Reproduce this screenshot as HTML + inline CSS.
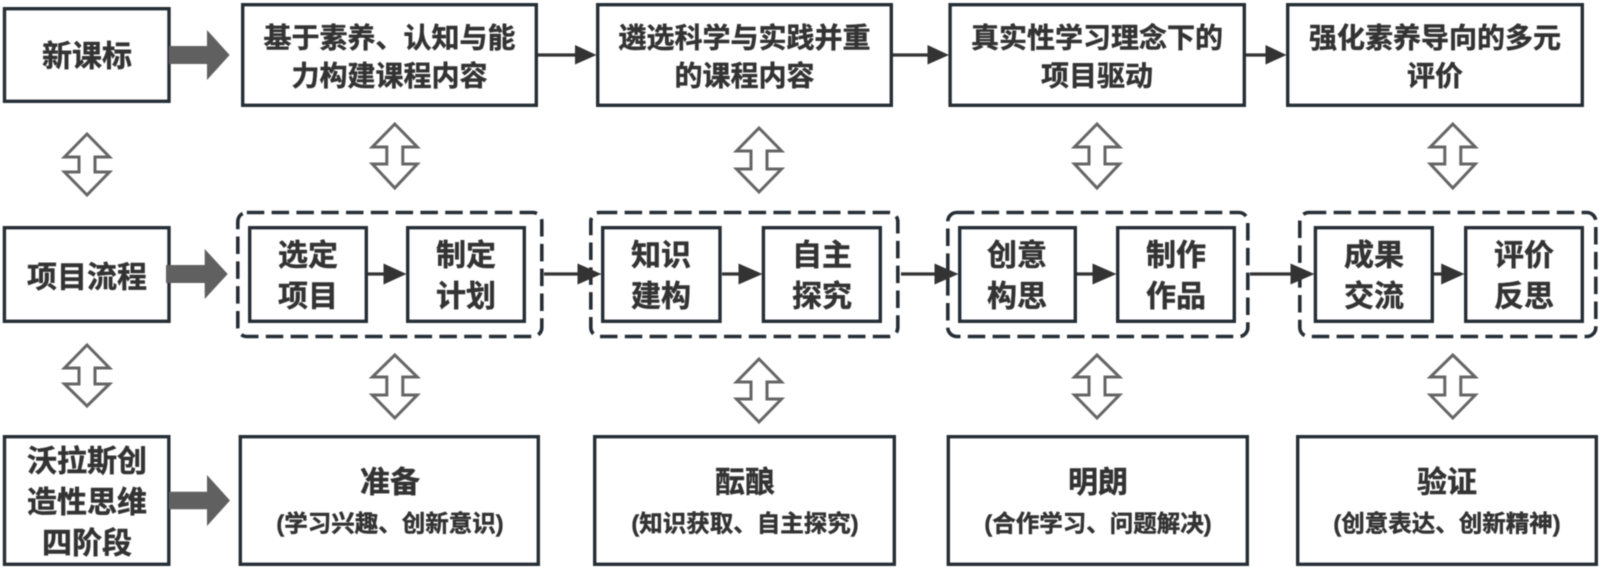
<!DOCTYPE html>
<html lang="zh">
<head>
<meta charset="utf-8">
<title>课程流程图</title>
<style>
html,body{margin:0;padding:0;background:#fff;width:1600px;height:572px;overflow:hidden}
svg{display:block;filter:blur(0.45px)}
text{font-family:"Liberation Sans","Noto Sans CJK SC",sans-serif;font-weight:700;fill:#333;stroke:#333;stroke-width:.45;text-anchor:middle;dominant-baseline:central}
.b{fill:#fff;stroke:#262e36;stroke-width:3.4}
.d{fill:none;stroke:#262e36;stroke-width:3.6;stroke-dasharray:17.5 7.3}
.l{stroke:#333;stroke-width:3.3;fill:none}
.h{fill:#333}
.g{fill:#606060}
.o{fill:#fff;stroke:#666;stroke-width:3}
.t28{font-size:28px}.t30{font-size:30px}.t23{font-size:23.500px}
</style>
</head>
<body>
<svg width="1600" height="572" viewBox="0 0 1600 572" xmlns="http://www.w3.org/2000/svg">
<!-- dashed groups -->
<rect class="d" x="237.8" y="212.5" width="304" height="124" rx="9"/>
<rect class="d" x="590.8" y="212.5" width="307" height="124" rx="9"/>
<rect class="d" x="947.8" y="212.5" width="300" height="124" rx="9"/>
<rect class="d" x="1299.8" y="212.5" width="296" height="124" rx="9"/>

<!-- thin connectors row 1 -->
<path class="l" d="M538 55H580M893 55H932M1246 55H1270"/>
<polygon class="h" points="575,45 596.500,55 575,64.500"/>
<polygon class="h" points="927.500,45 949,55 927.500,64.500"/>
<polygon class="h" points="1265.500,45 1286.500,55 1265.500,64.500"/>

<!-- thin connectors row 2 -->
<path class="l" d="M368 274H390M544 274H582M722 274H744M901 274H940M1077 274H1098M1250 274H1295M1434 274H1446"/>
<polygon class="h" points="383.500,263.500 406.500,274 383.500,284.500"/>
<polygon class="h" points="577.500,263.500 601.500,274 577.500,284.500"/>
<polygon class="h" points="738.500,263.500 762.500,274 738.500,284.500"/>
<polygon class="h" points="934.500,263.500 958.500,274 934.500,284.500"/>
<polygon class="h" points="1092.500,263.500 1116.500,274 1092.500,284.500"/>
<polygon class="h" points="1290.500,263.500 1314.500,274 1290.500,284.500"/>
<polygon class="h" points="1441.200,263.500 1464.500,274 1441.200,284.500"/>

<!-- row 1 boxes -->
<rect class="b" x="4.5" y="8.7" width="164.5" height="92.6"/>
<rect class="b" x="242.7" y="4.7" width="293.6" height="100.6"/>
<rect class="b" x="597.7" y="4.7" width="293.6" height="100.6"/>
<rect class="b" x="950.1" y="4.7" width="294.2" height="100.6"/>
<rect class="b" x="1287.7" y="4.7" width="294.6" height="100.6"/>

<!-- row 2 boxes -->
<rect class="b" x="4.4" y="227.7" width="164.6" height="93.6"/>
<rect class="b" x="249.7" y="227.7" width="116.6" height="93.6"/>
<rect class="b" x="407.7" y="227.7" width="116.6" height="93.6"/>
<rect class="b" x="602.7" y="227.7" width="117.3" height="93.6"/>
<rect class="b" x="763.4" y="227.7" width="116.9" height="93.6"/>
<rect class="b" x="959.7" y="227.7" width="115.6" height="93.6"/>
<rect class="b" x="1117.7" y="227.7" width="116.6" height="93.6"/>
<rect class="b" x="1315.4" y="227.7" width="116.9" height="93.6"/>
<rect class="b" x="1465.7" y="227.7" width="116.6" height="93.6"/>

<!-- row 3 boxes -->
<rect class="b" x="4.5" y="436.7" width="164.3" height="127.6"/>
<rect class="b" x="240.3" y="436.7" width="298" height="127.6"/>
<rect class="b" x="594.7" y="436.7" width="299.6" height="127.6"/>
<rect class="b" x="948.3" y="436.7" width="299" height="127.6"/>
<rect class="b" x="1297.7" y="436.7" width="298.6" height="127.6"/>

<!-- block arrows -->
<polygon class="g" points="169,46 207,46 207,30 229.6,55 207,80 207,64 169,64"/>
<polygon class="g" points="166,265 204.7,265 204.7,249 227.7,274 204.7,299 204.7,283 166,283"/>
<polygon class="g" points="169,491.7 207,491.7 207,475 230,500.5 207,526 207,509.3 169,509.3"/>

<!-- hollow double arrows, row 1-2 -->
<path class="o" d="M87 134L109.500 157H95V172H109.500L87 195L64.500 172H79V157H64.500Z"/>
<path class="o" d="M394.800 124L417.300 147H402.800V164H417.300L394.800 188L372.300 164H386.800V147H372.300Z"/>
<path class="o" d="M759 128L781.500 151H767V169H781.500L759 192L736.500 169H751V151H736.500Z"/>
<path class="o" d="M1097 124L1119.500 147H1105V164H1119.500L1097 188L1074.500 164H1089V147H1074.500Z"/>
<path class="o" d="M1452.800 124L1475.300 147H1460.800V164H1475.300L1452.800 188L1430.300 164H1444.800V147H1430.300Z"/>

<!-- hollow double arrows, row 2-3 -->
<path class="o" d="M87 345L109.500 368H95V384H109.500L87 406L64.500 384H79V368H64.500Z"/>
<path class="o" d="M394.800 355L417.300 377H402.800V395H417.300L394.800 418L372.300 395H386.800V377H372.300Z"/>
<path class="o" d="M759 359L781.500 382H767V399H781.500L759 422L736.500 399H751V382H736.500Z"/>
<path class="o" d="M1097 355L1119.500 377H1105V395H1119.500L1097 418L1074.500 395H1089V377H1074.500Z"/>
<path class="o" d="M1452.800 355L1475.300 377H1460.800V395H1475.300L1452.800 418L1430.300 395H1444.800V377H1430.300Z"/>

<!-- row 1 labels -->
<text class="t30" x="87" y="57">新课标</text>
<text class="t28" x="389.500" y="38">基于素养、认知与能</text>
<text class="t28" x="389.500" y="76">力构建课程内容</text>
<text class="t28" x="744.500" y="38">遴选科学与实践并重</text>
<text class="t28" x="744.500" y="76">的课程内容</text>
<text class="t28" x="1097" y="38">真实性学习理念下的</text>
<text class="t28" x="1097" y="76">项目驱动</text>
<text class="t28" x="1435" y="38">强化素养导向的多元</text>
<text class="t28" x="1435" y="76">评价</text>

<!-- row 2 labels -->
<text class="t30" x="87" y="278">项目流程</text>
<text class="t30" x="308" y="256">选定</text>
<text class="t30" x="308" y="297">项目</text>
<text class="t30" x="466" y="256">制定</text>
<text class="t30" x="466" y="297">计划</text>
<text class="t30" x="661" y="256">知识</text>
<text class="t30" x="661" y="297">建构</text>
<text class="t30" x="822" y="256">自主</text>
<text class="t30" x="822" y="297">探究</text>
<text class="t30" x="1017" y="256">创意</text>
<text class="t30" x="1017" y="297">构思</text>
<text class="t30" x="1176" y="256">制作</text>
<text class="t30" x="1176" y="297">作品</text>
<text class="t30" x="1374" y="256">成果</text>
<text class="t30" x="1374" y="297">交流</text>
<text class="t30" x="1524" y="256">评价</text>
<text class="t30" x="1524" y="297">反思</text>

<!-- row 3 labels -->
<text class="t30" x="87" y="462">沃拉斯创</text>
<text class="t30" x="87" y="503">造性思维</text>
<text class="t30" x="87" y="544">四阶段</text>
<text class="t30" x="390" y="483">准备</text>
<text class="t23" x="390" y="523.500">(学习兴趣、创新意识)</text>
<text class="t30" x="745" y="483">酝酿</text>
<text class="t23" x="745" y="523.500">(知识获取、自主探究)</text>
<text class="t30" x="1098" y="483">明朗</text>
<text class="t23" x="1098" y="523.500">(合作学习、问题解决)</text>
<text class="t30" x="1447" y="483">验证</text>
<text class="t23" x="1447" y="523.500">(创意表达、创新精神)</text>
</svg>
</body>
</html>
